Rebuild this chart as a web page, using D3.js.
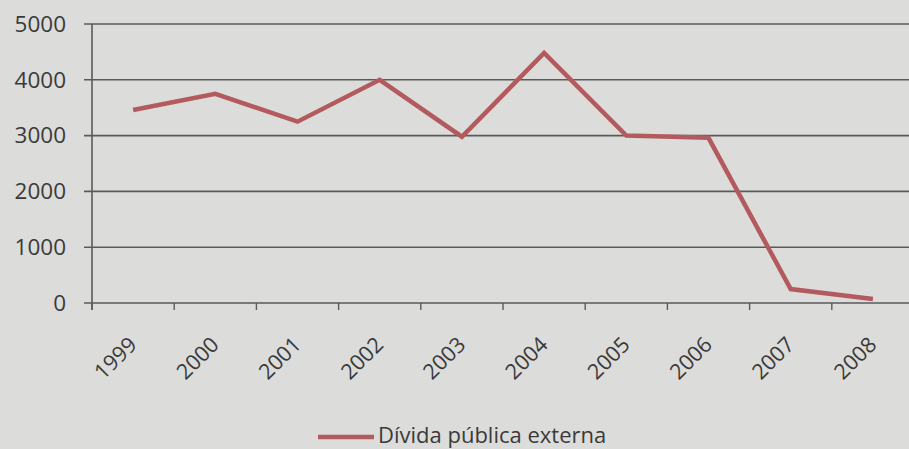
<!DOCTYPE html>
<html>
<head>
<meta charset="utf-8">
<script src="https://cdn.jsdelivr.net/npm/d3@7"></script>
<style>
  html, body { margin: 0; padding: 0; background: #dcdcdb; }
  svg { display: block; }
  text { font-family: "Open Sans", "DejaVu Sans", sans-serif; fill: #3a3a3a; }
</style>
</head>
<body>
<svg id="chart" width="909" height="449"></svg>
<script>
// Dívida pública externa, 1999–2008
const years = ["1999", "2000", "2001", "2002", "2003", "2004", "2005", "2006", "2007", "2008"];
const debt = [3460, 3750, 3250, 4000, 2980, 4480, 3000, 2960, 250, 70];
const yTicks = [0, 1000, 2000, 3000, 4000, 5000];
const seriesName = "Dívida pública externa";

const svg = d3.select("#chart");
const margin = { left: 92, right: -5, top: 24, bottom: 146 };
const W = 909, H = 449;

const x = d3.scaleBand().domain(years).range([margin.left, W - margin.right]).padding(0);
const y = d3.scaleLinear().domain([0, 5000]).range([H - margin.bottom, margin.top]);

const gridColor = "#5a5a5a";

// horizontal gridlines with their left tick marks
svg.append("g")
  .selectAll("line")
  .data(yTicks)
  .join("line")
  .attr("x1", margin.left - 8)
  .attr("x2", W)
  .attr("y1", d => y(d))
  .attr("y2", d => y(d))
  .attr("stroke", gridColor)
  .attr("stroke-width", 1.6);

// y-axis labels
svg.append("g")
  .selectAll("text")
  .data(yTicks)
  .join("text")
  .attr("x", 66)
  .attr("y", d => y(d))
  .attr("dy", "0.35em")
  .attr("text-anchor", "end")
  .attr("font-size", 22.5)
  .text(d => d);

// vertical axis line
svg.append("line")
  .attr("x1", margin.left).attr("x2", margin.left)
  .attr("y1", y(5000)).attr("y2", y(0) + 7)
  .attr("stroke", gridColor).attr("stroke-width", 1.6);

// category boundary ticks on the x axis
const bounds = years.map(d => x(d)).concat([x(years[years.length - 1]) + x.bandwidth()]);
svg.append("g")
  .selectAll("line")
  .data(bounds)
  .join("line")
  .attr("x1", d => d).attr("x2", d => d)
  .attr("y1", y(0)).attr("y2", y(0) + 7)
  .attr("stroke", gridColor).attr("stroke-width", 1.4);

// rotated year labels
svg.append("g")
  .selectAll("text")
  .data(years)
  .join("text")
  .attr("transform", d => `translate(${x(d) + x.bandwidth() / 2 + 5},${y(0) + 43}) rotate(-45)`)
  .attr("text-anchor", "end")
  .attr("font-size", 21.5)
  .text(d => d);

// the series line
const lineColor = "#b35a5e";
const line = d3.line()
  .x((d, i) => x(years[i]) + x.bandwidth() / 2)
  .y(d => y(d));

svg.append("path")
  .datum(debt)
  .attr("d", line)
  .attr("fill", "none")
  .attr("stroke", lineColor)
  .attr("stroke-width", 4.5)
  .attr("stroke-linejoin", "miter");

// legend
const lg = svg.append("g").attr("transform", "translate(318,437)");
lg.append("line")
  .attr("x1", 0).attr("x2", 56)
  .attr("y1", 0).attr("y2", 0)
  .attr("stroke", lineColor).attr("stroke-width", 4.5);
lg.append("text")
  .attr("x", 60)
  .attr("y", 6)
  .attr("font-size", 22)
  .text(seriesName);
</script>
</body>
</html>
